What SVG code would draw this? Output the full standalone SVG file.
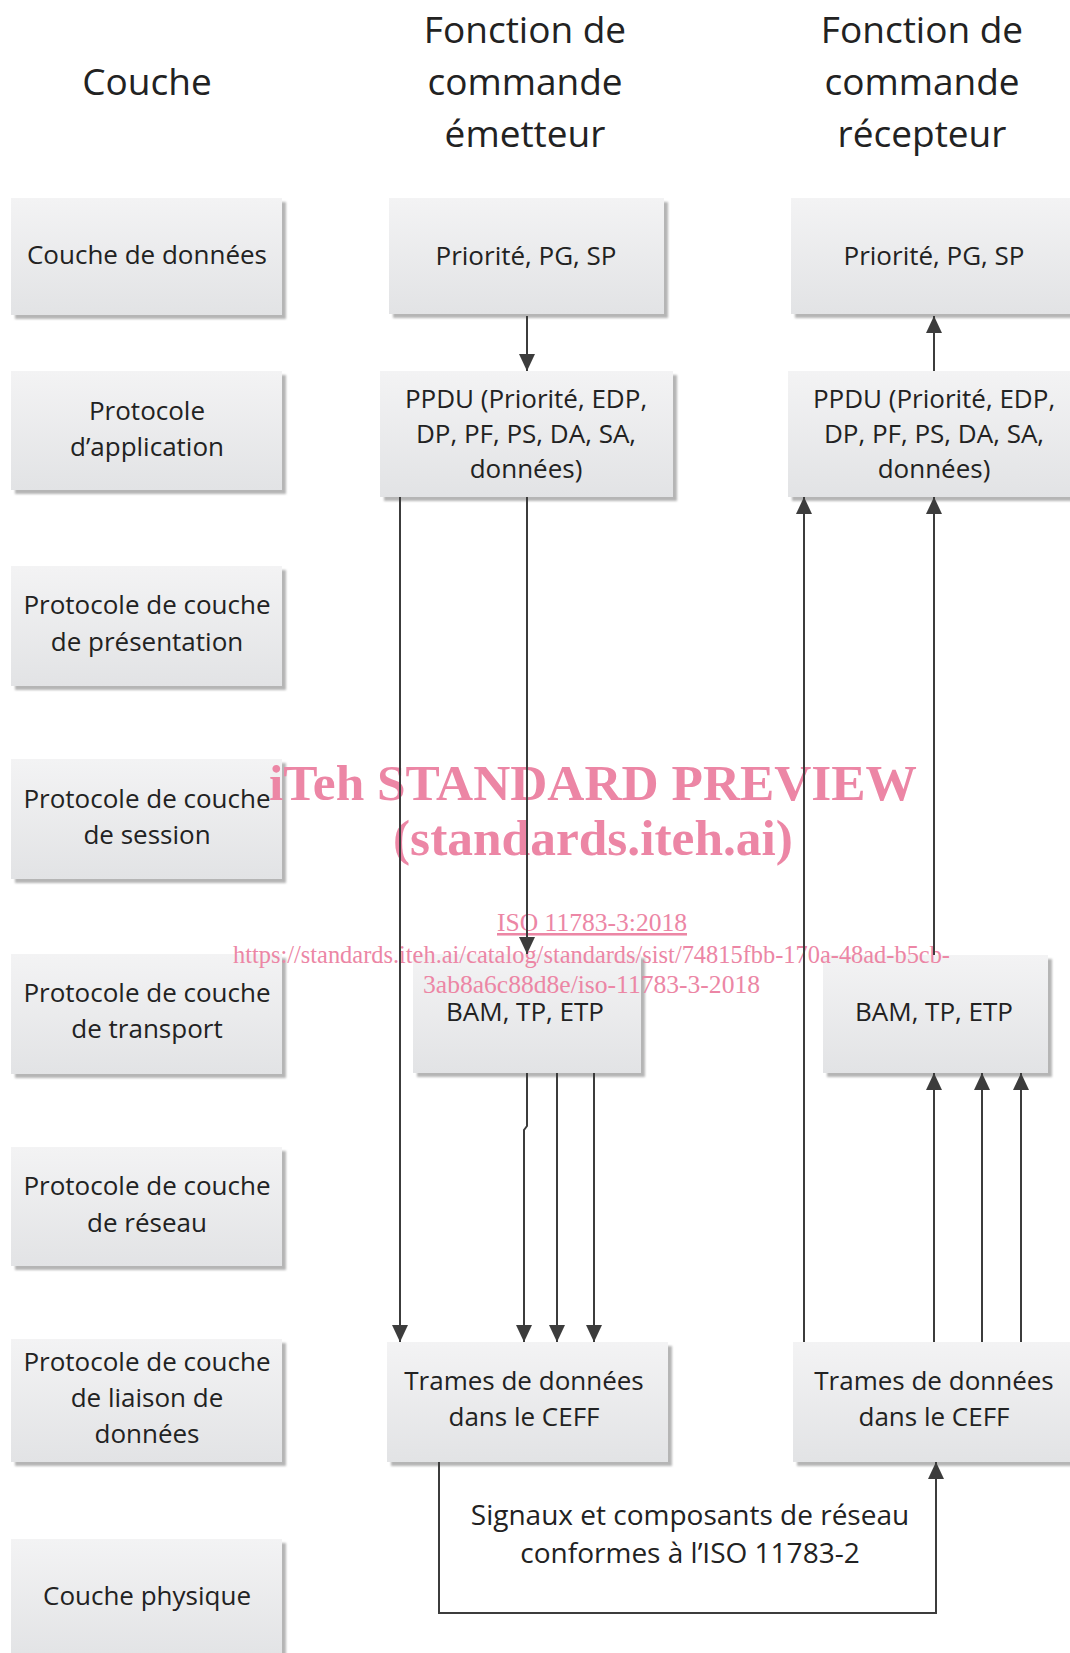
<svg xmlns="http://www.w3.org/2000/svg" width="1070" height="1653" viewBox="0 0 1070 1653">
<defs>
<linearGradient id="g" x1="0" y1="0" x2="0" y2="1">
<stop offset="0" stop-color="#f3f3f4"/>
<stop offset="1" stop-color="#e2e3e5"/>
</linearGradient>
<filter id="sh" x="-5%" y="-5%" width="115%" height="115%">
<feDropShadow dx="4" dy="4" stdDeviation="1.2" flood-color="#a8a8a8" flood-opacity="0.85"/>
</filter>
<marker id="ah" viewBox="0 0 17 16" refX="17" refY="8" markerWidth="17" markerHeight="16" markerUnits="userSpaceOnUse" orient="auto">
<path d="M0,0 L17,8 L0,16 z" fill="#3c3c3c"/>
</marker>
<style>
.box{fill:url(#g);filter:url(#sh);}
.t{font-family:"Open Sans","Noto Sans",sans-serif;font-size:26px;fill:#222;text-anchor:middle;}
.h{font-family:"Open Sans","Noto Sans",sans-serif;font-size:37px;fill:#222;text-anchor:middle;}
.s{font-family:"Open Sans","Noto Sans",sans-serif;font-size:28px;fill:#222;text-anchor:middle;}
.c{fill:none;stroke:#3c3c3c;stroke-width:2;}
.a{marker-end:url(#ah);}
.w{font-family:"Liberation Serif","Times New Roman",serif;fill:#ec86a5;}
</style>
</defs>
<rect width="1070" height="1653" fill="#ffffff"/>

<g id="headers">
<text class="h" x="147" y="95">Couche</text>
<text class="h" x="525" y="43">Fonction de</text>
<text class="h" x="525" y="95">commande</text>
<text class="h" x="525" y="147">émetteur</text>
<text class="h" x="922" y="43">Fonction de</text>
<text class="h" x="922" y="95">commande</text>
<text class="h" x="922" y="147">récepteur</text>
</g>

<g id="layer-donnees"><rect class="box" x="11" y="198" width="271" height="117"/><text class="t" x="147" y="264">Couche de données</text></g>
<g id="layer-application"><rect class="box" x="11" y="371" width="271" height="119"/><text class="t" x="147" y="420">Protocole</text><text class="t" x="147" y="456">d’application</text></g>
<g id="layer-presentation"><rect class="box" x="11" y="566" width="271" height="120"/><text class="t" x="147" y="614">Protocole de couche</text><text class="t" x="147" y="651">de présentation</text></g>
<g id="layer-session"><rect class="box" x="11" y="759" width="271" height="120"/><text class="t" x="147" y="808">Protocole de couche</text><text class="t" x="147" y="844">de session</text></g>
<g id="layer-transport"><rect class="box" x="11" y="954" width="271" height="120"/><text class="t" x="147" y="1002">Protocole de couche</text><text class="t" x="147" y="1038">de transport</text></g>
<g id="layer-reseau"><rect class="box" x="11" y="1147" width="271" height="119"/><text class="t" x="147" y="1195">Protocole de couche</text><text class="t" x="147" y="1232">de réseau</text></g>
<g id="layer-liaison"><rect class="box" x="11" y="1339" width="271" height="123"/><text class="t" x="147" y="1371">Protocole de couche</text><text class="t" x="147" y="1407">de liaison de</text><text class="t" x="147" y="1443">données</text></g>
<g id="layer-physique"><rect class="box" x="11" y="1539" width="271" height="120"/><text class="t" x="147" y="1605">Couche physique</text></g>

<g id="tx-prio"><rect class="box" x="389" y="198" width="275" height="116"/><text class="t" x="526" y="265">Priorité, PG, SP</text></g>
<g id="tx-ppdu"><rect class="box" x="380" y="371" width="293" height="126"/><text class="t" x="526" y="408">PPDU (Priorité, EDP,</text><text class="t" x="526" y="443">DP, PF, PS, DA, SA,</text><text class="t" x="526" y="478">données)</text></g>
<g id="tx-bam"><rect class="box" x="413" y="954" width="228" height="119"/><text class="t" x="525" y="1021">BAM, TP, ETP</text></g>
<g id="tx-trames"><rect class="box" x="387" y="1342" width="281" height="120"/><text class="t" x="524" y="1390">Trames de données</text><text class="t" x="524" y="1426">dans le CEFF</text></g>

<g id="rx-prio"><rect class="box" x="791" y="198" width="290" height="116"/><text class="t" x="934" y="265">Priorité, PG, SP</text></g>
<g id="rx-ppdu"><rect class="box" x="788" y="371" width="292" height="126"/><text class="t" x="934" y="408">PPDU (Priorité, EDP,</text><text class="t" x="934" y="443">DP, PF, PS, DA, SA,</text><text class="t" x="934" y="478">données)</text></g>
<g id="rx-bam"><rect class="box" x="823" y="955" width="225" height="118"/><text class="t" x="934" y="1021">BAM, TP, ETP</text></g>
<g id="rx-trames"><rect class="box" x="793" y="1342" width="290" height="120"/><text class="t" x="934" y="1390">Trames de données</text><text class="t" x="934" y="1426">dans le CEFF</text></g>

<g id="physical-label">
<text class="s" x="690" y="1525">Signaux et composants de réseau</text>
<text class="s" x="690" y="1563">conformes à l’ISO 11783-2</text>
</g>

<g id="watermark">
<text class="w" x="269" y="800" font-size="50" font-weight="bold" textLength="648" lengthAdjust="spacingAndGlyphs">iTeh STANDARD PREVIEW</text>
<text class="w" x="393" y="855" font-size="50" font-weight="bold" textLength="400" lengthAdjust="spacingAndGlyphs">(standards.iteh.ai)</text>
<text class="w" x="497" y="931" font-size="25.5" text-decoration="underline" textLength="190" lengthAdjust="spacingAndGlyphs">ISO 11783-3:2018</text>
<text class="w" x="233" y="963" font-size="25.5" textLength="717" lengthAdjust="spacingAndGlyphs">https://standards.iteh.ai/catalog/standards/sist/74815fbb-170a-48ad-b5cb-</text>
<text class="w" x="423" y="993" font-size="25.5" textLength="337" lengthAdjust="spacingAndGlyphs">3ab8a6c88d8e/iso-11783-3-2018</text>
</g>

<g id="connectors">
<path class="c a" d="M527,316 V371"/>
<path class="c a" d="M400,497 V1342"/>
<path class="c a" d="M527,497 V954"/>
<path class="c a" d="M527,1073 V1126 L524,1130 V1342"/>
<path class="c a" d="M557,1073 V1342"/>
<path class="c a" d="M594,1073 V1342"/>
<path class="c a" d="M934,371 V316"/>
<path class="c a" d="M804,1342 V497"/>
<path class="c a" d="M934,955 V497"/>
<path class="c a" d="M934,1342 V1073"/>
<path class="c a" d="M982,1342 V1073"/>
<path class="c a" d="M1021,1342 V1073"/>
<path class="c a" d="M439,1462 V1613 H936 V1462"/>
</g>
</svg>
